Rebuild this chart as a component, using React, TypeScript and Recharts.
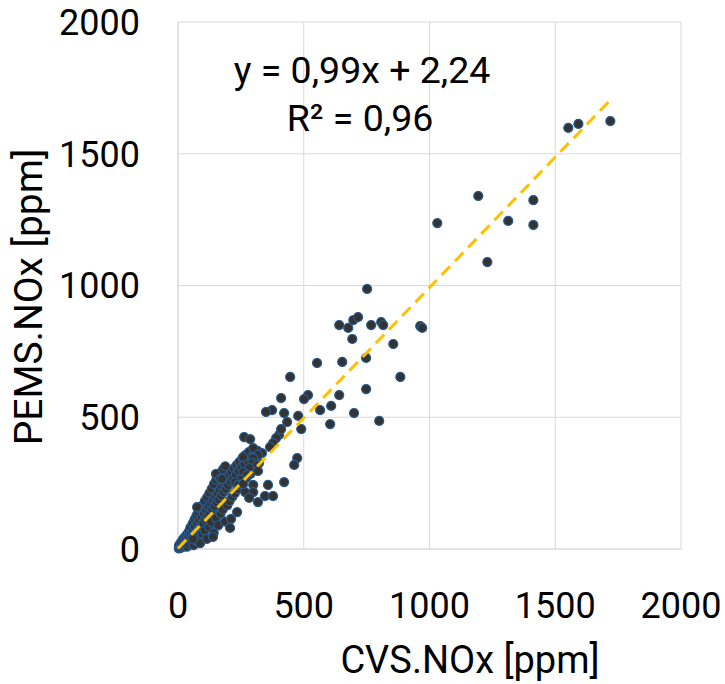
import { ScatterChart, Scatter, XAxis, YAxis, ZAxis, CartesianGrid } from 'recharts';

// CVS.NOx vs PEMS.NOx [ppm] as [x, y]
const clusterPoints = [
  [3, 2], [6, 9], [4, 14], [9, 3], [12, 11], [15, 19], [11, 24], [18, 7], [21, 17], [24, 30],
  [19, 36], [27, 13], [30, 22], [26, 44], [33, 38], [36, 9], [38, 29], [35, 55], [41, 47], [44, 18],
  [47, 36], [43, 66], [50, 58], [53, 27], [49, 81], [56, 44], [59, 70], [62, 15], [58, 96], [64, 52],
  [67, 84], [70, 33], [66, 112], [73, 63], [76, 98], [79, 45], [74, 128], [82, 75], [85, 108], [88, 22],
  [81, 140], [91, 88], [94, 121], [97, 57], [90, 152], [100, 99], [103, 134], [106, 70], [98, 166], [109, 112],
  [112, 146], [115, 38], [107, 182], [118, 124], [121, 160], [124, 84], [116, 196], [127, 136], [130, 172], [133, 101],
  [125, 212], [136, 150], [139, 186], [142, 61], [134, 228], [145, 162], [148, 198], [151, 118], [143, 246], [154, 176],
  [157, 212], [160, 90], [152, 262], [163, 188], [166, 224], [169, 134], [161, 276], [172, 202], [175, 238], [178, 150],
  [170, 290], [181, 216], [184, 250], [187, 104], [179, 302], [190, 228], [193, 264], [196, 166], [188, 314], [199, 242],
  [202, 278], [205, 182], [210, 256], [213, 292], [216, 198], [220, 268], [223, 306], [226, 212], [230, 282], [233, 318],
  [237, 228], [241, 296], [244, 330], [248, 242], [252, 310], [256, 344], [260, 258], [264, 322], [268, 356], [272, 270],
  [277, 336], [282, 368], [287, 284], [292, 348], [298, 296], [304, 360], [310, 312], [316, 372], [322, 326],
];

const lowerPoints = [
  [263, 425], [287, 417], [299, 383], [334, 364], [318, 357], [259, 349], [299, 345], [295, 326], [314, 319], [283, 307],
  [318, 296], [259, 292], [275, 281], [247, 262], [227, 254], [239, 243], [299, 243], [151, 285], [167, 266], [175, 266],
  [299, 216], [267, 216], [283, 194], [318, 178], [346, 201], [378, 201], [259, 247], [76, 159], [211, 114], [207, 80],
  [235, 140], [139, 46], [60, 38], [402, 433], [390, 421], [378, 402], [366, 387], [474, 345], [462, 319], [422, 254],
  [358, 243],
];

const midPoints = [
  [410, 573], [374, 527], [350, 520], [422, 516], [478, 505], [434, 482], [490, 455], [410, 455], [700, 516], [800, 486],
  [605, 474], [609, 543], [565, 527], [517, 584], [501, 569], [641, 584], [748, 607], [446, 653], [553, 706], [653, 710],
  [748, 725], [693, 797], [856, 778], [884, 653], [641, 850], [677, 839], [697, 869], [716, 880], [768, 850], [808, 861],
  [816, 850], [752, 987], [963, 846], [971, 839],
];

const highPoints = [
  [1031, 1237], [1194, 1340], [1313, 1245], [1413, 1324], [1413, 1230], [1230, 1089],
  [1552, 1598], [1592, 1613], [1719, 1624],
];

// linear trend y = 0,99x + 2,24 as drawn (end points)
const trendPoints = [[0, 2], [1720, 1705]];

const axisTicks = [0, 500, 1000, 1500, 2000];

const points = [...clusterPoints, ...lowerPoints, ...midPoints, ...highPoints].map(([x, y]) => ({ x, y }));
const trend = trendPoints.map(([x, y]) => ({ x, y }));

const font = 'Roboto, "Open Sans", sans-serif';

export default function App() {
  return (
    <div style={{ position: 'absolute', left: 0, top: 0, width: 725, height: 684, background: '#fff' }}>
      <ScatterChart width={725} height={684} margin={{ top: 22, right: 44, left: 0, bottom: 0 }}>
        <CartesianGrid stroke="#D9D9D9" strokeWidth={1} />
        <XAxis
          type="number"
          dataKey="x"
          domain={[0, 2000]}
          ticks={axisTicks}
          height={135}
          tickLine={false}
          tickSize={0}
          tickMargin={43}
          axisLine={{ stroke: '#D9D9D9' }}
          tick={{ fill: '#000', fontSize: 36, fontFamily: font }}
        />
        <YAxis
          type="number"
          dataKey="y"
          domain={[0, 2000]}
          ticks={axisTicks}
          width={178}
          tickLine={false}
          tickSize={0}
          tickMargin={38}
          axisLine={{ stroke: '#D9D9D9' }}
          tick={{ fill: '#000', fontSize: 36, fontFamily: font }}
        />
        <ZAxis range={[64, 64]} />
        <Scatter data={points} fill="#333333" stroke="#285A8C" strokeWidth={1.2} isAnimationActive={false} />
        <Scatter
          data={trend}
          line={{ stroke: '#FFC000', strokeWidth: 3, strokeDasharray: '12 7' }}
          shape={() => <g />}
          isAnimationActive={false}
        />
      </ScatterChart>
      <svg width={725} height={684} style={{ position: 'absolute', left: 0, top: 0, pointerEvents: 'none' }}>
        <g fontFamily={font} fill="#000">
          <text x={362} y={83} fontSize={37.5} textAnchor="middle">y = 0,99x + 2,24</text>
          <text x={360} y={131} fontSize={37.5} textAnchor="middle">R² = 0,96</text>
          <text x={470} y={673} fontSize={38} textAnchor="middle">CVS.NOx [ppm]</text>
          <text x={42} y={297} fontSize={39} textAnchor="middle" transform="rotate(-90 42 297)">PEMS.NOx [ppm]</text>
        </g>
      </svg>
    </div>
  );
}
